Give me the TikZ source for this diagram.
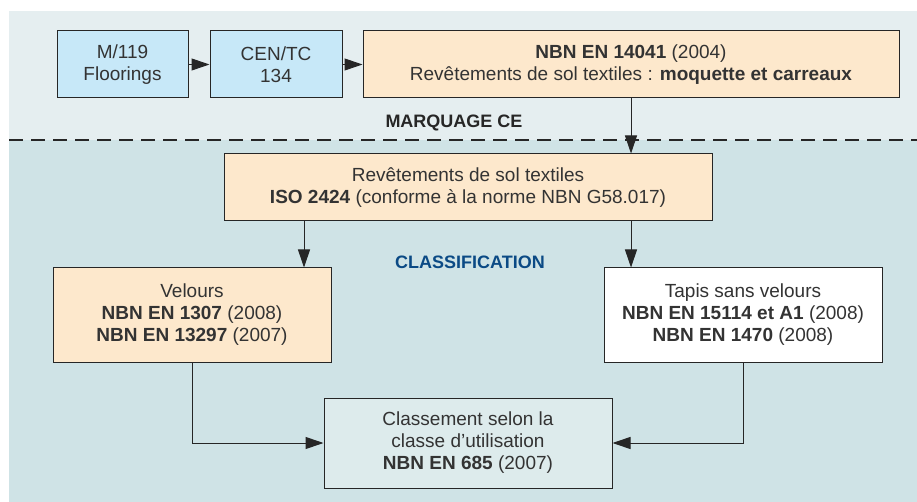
\documentclass[tikz,border=0pt]{standalone}
\usepackage{fontspec}
\setmainfont{Liberation Sans}
\usetikzlibrary{positioning,arrows.meta}
\definecolor{topband}{HTML}{E5EEF0}
\definecolor{lowband}{HTML}{CFE3E6}
\definecolor{skyblue}{HTML}{C7E8F8}
\definecolor{peach}{HTML}{FDE8CC}
\definecolor{greybox}{HTML}{DDEBEC}
\definecolor{navy}{HTML}{0B4A85}

\begin{document}
\begin{tikzpicture}[x=1pt,y=-1pt,
  box/.style={draw=black!85,line width=1pt,minimum height=67pt,align=center,inner sep=0pt,
    text=black!80,font=\fontsize{19}{22}\selectfont},
  tall/.style={box,minimum width=278pt,minimum height=94pt},
  arr/.style={draw=black!85,line width=1pt,-{Triangle[length=18pt,width=12pt]}},
  banner/.style={font=\bfseries\fontsize{18}{22}\selectfont}]
  \useasboundingbox (0,0) rectangle (917,502);
  \fill[topband] (9,11) rectangle (917,140);
  \fill[lowband] (9,140) rectangle (917,502);
  \draw[black!85,line width=2.5pt,dash pattern=on 14pt off 8pt] (9,140) -- (917,140);

  % marquage CE
  \node[box,fill=skyblue,minimum width=131pt] (m119) at (122.5,64.5) {M/119\\Floorings};
  \node[box,fill=skyblue,minimum width=132pt] (centc) at (276,64.5) {CEN/TC\\134};
  \node[box,fill=peach,minimum width=536pt] (en14041) at (631,64.5)
    {\textbf{NBN EN 14041} (2004)\\Revêtements de sol textiles : \textbf{moquette et carreaux}};
  \node[banner,text=black!85] (marquage) at (454,123) {MARQUAGE CE};

  % classification
  \node[box,fill=peach,minimum width=488pt] (iso2424) at (468,187.5)
    {Revêtements de sol textiles\\\textbf{ISO 2424} (conforme à la norme NBN G58.017)};
  \node[banner,text=navy] (classif) at (470,262) {CLASSIFICATION};
  \node[tall,fill=peach] (velours) at (192,315)
    {Velours\\\textbf{NBN EN 1307} (2008)\\\textbf{NBN EN 13297} (2007)};
  \node[tall,fill=white] (tapis) at (743,315)
    {Tapis sans velours\\\textbf{NBN EN 15114 et A1} (2008)\\\textbf{NBN EN 1470} (2008)};
  \node[box,fill=greybox,minimum width=288pt,minimum height=90pt] (classement) at (468,443)
    {Classement selon la\\classe d’utilisation\\\textbf{NBN EN 685} (2007)};

  \draw[arr] (m119) -- (centc);
  \draw[arr] (centc) -- (en14041);
  \draw[arr] (en14041.south) -- (en14041.south |- iso2424.north);
  \draw[arr] ([xshift=-164pt]iso2424.south) -- ([xshift=-164pt]iso2424.south |- velours.north);
  \draw[arr] (en14041.south |- iso2424.south) -- (en14041.south |- tapis.north);
  \draw[arr] (velours.south) |- (classement.west);
  \draw[arr] (tapis.south) |- (classement.east);
\end{tikzpicture}
\end{document}
